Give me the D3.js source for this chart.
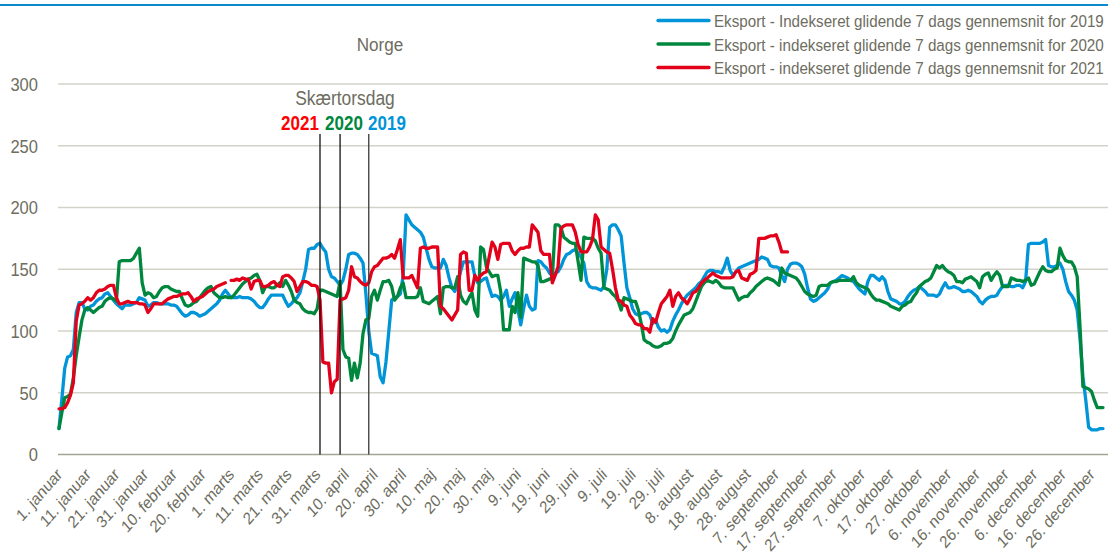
<!DOCTYPE html>
<html><head><meta charset="utf-8">
<script src="https://cdn.jsdelivr.net/npm/d3@7"></script>
<style>
html,body{margin:0;padding:0;background:#fff;}
svg{display:block;font-family:"Liberation Sans",Arial,sans-serif;}
</style>
</head><body>
<svg id="chart" width="1108" height="558"></svg>
<script>
// ---------- data ----------
const chartTitle = "Norge";
const tickLabels = ["1. januar","11. januar","21. januar","31. januar","10. februar","20. februar","1. marts","11. marts","21. marts","31. marts","10. april","20. april","30. april","10. maj","20. maj","30. maj","9. juni","19. juni","29. juni","9. juli","19. juli","29. juli","8. august","18. august","28. august","7. september","17. september","27. september","7. oktober","17. oktober","27. oktober","6. november","16. november","26. november","6. december","16. december","26. december"];
const tickDays = [0,10,20,30,40,50,60,70,80,90,100,110,120,130,140,150,160,170,180,190,200,210,220,230,240,250,260,270,280,290,300,310,320,330,340,350,360];
const yTicks = [0,50,100,150,200,250,300];

const seriesNames = [
  "Eksport - Indekseret glidende 7 dags gennemsnit for 2019",
  "Eksport - indekseret glidende 7 dags gennemsnit for 2020",
  "Eksport - indekseret glidende 7 dags gennemsnit for 2021"
];
const seriesColors = ["#0095d8", "#00873e", "#e3001b"];

const values2019 = [
21,45,70,79,80,85,115,123,123,118,
117,120,121,124,126,127,130,131,128,125,
122,120,118,121,121,121,122,123,127,126,
125,120,121,123,123,122,122,122,122,121,
121,120,117,114,112,113,115,115,114,112,
113,114,116,118,120,122,125,130,133,130,
127,127,127,128,127,127,127,126,124,121,
119,119,122,126,129,129,129,129,129,124,
120,122,125,127,131,140,150,166,167,167,
170,171,167,164,150,144,143,140,137,141,
150,162,163,163,162,159,155,130,100,82,
81,80,63,58,75,100,125,127,128,130,
145,194,190,186,184,182,180,176,167,158,
152,151,151,151,158,153,143,135,132,138,
148,156,156,156,156,144,139,140,142,143,
135,128,129,128,125,128,133,120,126,131,
117,105,118,129,120,117,118,157,156,153,
151,147,145,147,148,152,158,162,163,165,
166,163,160,155,140,136,135,135,134,133,
136,150,184,186,186,182,177,155,135,127,
118,114,113,114,115,115,113,106,109,103,
100,101,99,101,108,113,117,122,126,129,
131,133,135,138,140,144,148,149,149,148,
148,147,152,159,149,145,148,151,152,153,
154,155,156,157,158,160,159,158,153,152,
152,151,145,140,150,154,155,155,154,152,
146,135,126,124,125,127,129,131,134,139,
140,141,143,145,144,143,141,140,137,134,
132,130,140,145,145,143,141,144,141,132,
126,125,124,122,122,124,128,131,133,134,
136,134,132,129,129,129,128,130,135,139,
135,135,136,135,134,132,132,133,132,130,
128,124,122,125,127,128,128,129,133,136,
137,137,136,136,137,137,135,140,170,171,
171,171,171,172,174,153,152,152,153,155,
150,140,132,129,125,117,93,63,44,22,
20,20,20,21,21];

const values2020 = [
21,34,46,47,49,62,80,95,109,117,
119,117,115,117,119,120,124,126,127,126,
124,156,157,157,157,157,159,163,167,139,
129,131,130,127,128,132,135,136,136,134,
133,132,132,126,121,120,121,123,124,127,
130,133,135,136,131,129,127,127,128,127,
127,129,132,135,138,140,142,143,145,146,
141,131,136,136,135,135,137,139,136,141,
137,132,125,123,122,118,116,115,115,114,
118,133,133,132,131,130,129,128,140,85,
79,78,60,74,62,74,98,109,110,128,
133,125,133,140,140,141,136,125,128,135,
139,127,127,127,127,128,135,124,123,122,
124,126,128,114,135,136,136,135,135,144,
129,124,122,127,131,117,112,168,166,152,
148,144,145,145,132,101,101,101,120,115,
131,111,159,158,157,156,156,153,140,140,
141,142,143,186,186,184,176,174,172,171,
171,156,141,176,175,175,175,173,167,163,
135,134,133,130,128,124,117,127,126,125,
124,124,117,106,93,91,90,88,87,87,
88,90,90,91,94,100,105,109,113,114,
115,118,124,130,136,139,141,140,139,141,
139,136,135,135,135,135,130,125,127,128,
128,131,133,136,138,140,142,143,142,141,
139,137,151,147,146,145,144,143,140,136,
132,130,129,128,129,136,137,137,137,139,
140,140,141,141,141,141,141,144,139,137,
136,135,134,130,127,125,125,124,123,122,
120,119,118,117,120,121,123,124,128,131,
136,138,140,141,143,148,153,151,153,150,
148,147,145,140,140,139,142,143,144,142,
140,135,144,146,147,141,145,148,145,136,
136,136,143,142,141,141,140,141,143,137,
138,143,148,152,149,148,148,150,151,167,
161,157,156,156,152,144,103,55,54,53,
51,44,38,38,38];

const values2021 = [
37,37,38,42,48,58,108,121,122,124,
127,125,127,131,133,133,134,136,137,137,
127,122,122,123,124,123,123,123,122,122,
121,115,118,122,122,122,122,124,126,127,
128,128,129,130,130,131,128,124,126,127,
128,130,132,133,134,136,137,138,139,null,
141,141,142,141,143,142,142,134,140,141,
141,136,136,137,139,140,137,136,144,145,
145,143,140,132,136,140,140,139,137,137,
136,125,75,74,74,50,59,61,125,126,
127,133,152,144,143,140,138,137,139,148,
152,153,156,159,159,160,162,159,166,174,
143,143,143,145,140,135,167,168,167,167,
168,168,168,120,118,115,112,109,113,117,
162,164,163,133,133,145,141,145,147,148,
160,172,168,158,170,171,171,171,165,162,
165,167,167,168,168,186,183,180,165,162,
162,162,139,145,152,183,185,186,186,186,
180,170,164,164,164,168,174,194,190,168,
166,164,163,150,135,125,124,121,120,113,
110,106,105,105,102,102,99,110,107,115,
122,125,128,133,120,128,131,127,125,122,
126,131,132,135,139,141,143,145,147,145,
144,143,143,143,143,144,148,149,143,142,
141,146,147,149,175,175,175,176,177,177,
178,172,164,164,164];

const easterTitle = "Skærtorsdag";
const easterYears = ["2021", "2020", "2019"];
const easterDays = [91, 98, 108];
const easterColors = ["#ff0000", "#00873e", "#0095d8"];

// ---------- drawing ----------
const W = 1108, H = 558;
const svg = d3.select("#chart");
const textColor = "#6d6d60";
const SQ = 0.87;

// horizontally condensed text: placed with a transform so its box is the drawn box
function addText(parent, tx, ty, str, opts) {
  const t = parent.append("text").attr("x", 0).attr("y", 0)
    .attr("text-anchor", opts.anchor || "start")
    .attr("fill", opts.fill || textColor)
    .style("font-size", opts.size + "px")
    .style("font-weight", opts.weight || "normal")
    .text(str);
  if (opts.dy) t.attr("dy", opts.dy);
  let f = opts.squeeze || 1;
  if (opts.width) f = opts.width / t.node().getComputedTextLength();
  t.attr("transform", `translate(${tx},${ty}) scale(${f.toFixed(4)},1)`);
  return t;
}

const x = d3.scaleLinear().domain([0, 364]).range([59, 1103]);
const y = d3.scaleLinear().domain([0, 300]).range([454.5, 84]);
const plotLeft = 58, plotRight = 1108;

// top rule
svg.append("line").attr("x1", 0).attr("x2", W).attr("y1", 5).attr("y2", 5)
  .attr("stroke", "#0a8acb").attr("stroke-width", 2.2);

// gridlines
svg.append("g").selectAll("line").data(yTicks.filter(d => d > 0)).join("line")
  .attr("x1", plotLeft).attr("x2", plotRight)
  .attr("y1", d => y(d)).attr("y2", d => y(d))
  .attr("stroke", "#d3d2c8").attr("stroke-width", 1.3);

// y labels
const yg = svg.append("g");
yTicks.forEach(v => addText(yg, 38, y(v), String(v), {anchor: "end", size: 19, dy: "0.36em", squeeze: SQ}));

// x axis line
svg.append("line").attr("x1", plotLeft).attr("x2", plotRight)
  .attr("y1", y(0)).attr("y2", y(0)).attr("stroke", "#a5a493").attr("stroke-width", 1.3);

// x labels (rotated)
svg.append("g").selectAll("text").data(tickDays).join("text")
  .attr("transform", d => `translate(${x(d) + 4},${y(0) + 21}) scale(${SQ},1) rotate(-45)`)
  .attr("text-anchor", "end").attr("fill", textColor)
  .style("font-size", "17px")
  .text((d, i) => tickLabels[i]);

// series
const line = d3.line().defined(d => d != null)
  .x((d, i) => x(i)).y(d => y(d));
[values2019, values2020, values2021].forEach((vals, k) => {
  svg.append("path").datum(vals)
    .attr("d", line).attr("fill", "none")
    .attr("stroke", seriesColors[k]).attr("stroke-width", 3.3)
    .attr("stroke-linejoin", "round").attr("stroke-linecap", "round");
});

// Easter markers
svg.append("g").selectAll("line").data(easterDays).join("line")
  .attr("x1", d => x(d)).attr("x2", d => x(d))
  .attr("y1", 134).attr("y2", y(0))
  .attr("stroke", (d, i) => i === 2 ? "#3a3a3a" : "#111").attr("stroke-width", 1.3);

addText(svg, 345, 105, easterTitle, {anchor: "middle", size: 20, squeeze: SQ});

const yearX = [300, 344, 387];
easterYears.forEach((yr, i) =>
  addText(svg, yearX[i], 130, yr, {anchor: "middle", size: 20, weight: "bold", fill: easterColors[i], squeeze: 0.85}));

// title
addText(svg, 380, 50.5, chartTitle, {anchor: "middle", size: 19, squeeze: 0.9});

// legend
const lg = svg.append("g");
seriesNames.forEach((name, i) => {
  const cy = 20.5 + i * 23.5;
  lg.append("line").attr("x1", 658).attr("x2", 709).attr("y1", cy).attr("y2", cy)
    .attr("stroke", seriesColors[i]).attr("stroke-width", 3.3).attr("stroke-linecap", "round");
  addText(lg, 714, cy + 6.5, name, {size: 17, width: 390});
});
</script>
</body></html>
